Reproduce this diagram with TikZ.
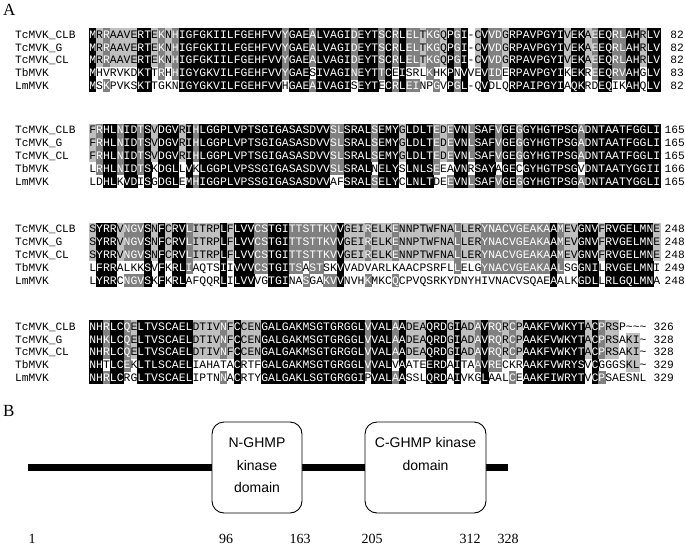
\documentclass[tikz,border=0pt]{standalone}
\usepackage{fontspec}
\setmainfont{Liberation Serif}
\setmonofont{Liberation Mono}
\newfontfamily\boxfont{Liberation Sans}
\definecolor{alndark}{gray}{0.5}
\definecolor{alnlight}{gray}{0.75}
\tikzset{
  cellbg0/.style={},
  cellbg3/.style={fill=alnlight},
  cellbg4/.style={fill=alndark},
  cellbg5/.style={fill=black},
  celltx0/.style={text=black},
  celltx3/.style={text=black},
  celltx4/.style={text=white},
  celltx5/.style={text=white},
  restxt/.style={font=\fontsize{11.4}{12}\selectfont\ttfamily, inner sep=0pt, anchor=base},
  seqname/.style={font=\fontsize{11.2}{12}\selectfont\ttfamily, inner sep=0pt, anchor=base west},
  seqnum/.style={font=\fontsize{11.2}{12}\selectfont\ttfamily, inner sep=0pt, anchor=base east},
  panellabel/.style={font=\fontsize{17}{18}\selectfont, inner sep=0pt, anchor=base west},
  protein/.style={line width=7pt},
  domainbox/.style={draw, fill=white, rounded corners=12pt, line width=0.9pt, inner sep=0pt},
  boxtxt/.style={font=\boxfont\fontsize{14}{16}\selectfont, inner sep=0pt, anchor=base},
  posnum/.style={font=\fontsize{14}{16}\selectfont, inner sep=0pt, anchor=base},
}
\newcommand\alnX{89.3}
\newcommand\alnW{6.88}
\newcommand\alnH{12.8}
\def\alnY{0}
\newcommand\alncell[4]{%
  \path[cellbg#3] ({\alnX+(#1-1)*\alnW},{\alnY+(#2-1)*\alnH}) rectangle ++({\alnW+0.3},{\alnH+0.3});
  \node[restxt,celltx#3] at ({\alnX+(#1-0.5)*\alnW},{\alnY+(#2-0.5)*\alnH+3.9}) {#4};
}
\newcommand\alnrow[5]{% #1 top, #2 row, #3 name, #4 number, #5 x of number right edge
  \node[seqname] at (15,{#1+(#2-0.5)*\alnH+3.9}) {#3};
  \node[seqnum] at (#5,{#1+(#2-0.5)*\alnH+3.9}) {#4};
}
\ExplSyntaxOn
\int_new:N \l__aln_n_int
\int_new:N \l__aln_count_int
\tl_new:N \l__aln_ch_tl
\tl_new:N \l__aln_i_tl
\tl_new:N \l__aln_r_tl
\tl_new:N \l__aln_q_tl
\tl_const:Nn \c__aln_zero_tl {0}
\int_step_inline:nn {5}
  {
    \str_new:c {l__aln_s#1_str}
    \tl_new:c {l__aln_c#1_tl}
    \tl_new:c {l__aln_g#1_tl}
  }
\cs_new_protected:Npn \__aln_group:nN #1#2
  {
    \str_case:nnF {#1}
      {
        {D}{\tl_set:Nn #2 {1}}
        {N}{\tl_set:Nn #2 {1}}
        {E}{\tl_set:Nn #2 {2}}
        {Q}{\tl_set:Nn #2 {2}}
        {S}{\tl_set:Nn #2 {3}}
        {T}{\tl_set:Nn #2 {3}}
        {K}{\tl_set:Nn #2 {4}}
        {R}{\tl_set:Nn #2 {4}}
        {F}{\tl_set:Nn #2 {5}}
        {Y}{\tl_set:Nn #2 {5}}
        {W}{\tl_set:Nn #2 {5}}
        {L}{\tl_set:Nn #2 {6}}
        {I}{\tl_set:Nn #2 {6}}
        {V}{\tl_set:Nn #2 {6}}
        {M}{\tl_set:Nn #2 {6}}
      }
      {
        \str_if_in:nnTF { ACGHP } {#1}
          { \tl_set:Nx #2 { \tl_to_str:n {#1} } }
          { \tl_set:Nn #2 {0} }
      }
  }
\cs_generate_variant:Nn \__aln_group:nN { vc }
\cs_new_protected:Npn \AlnBlock #1#2#3#4#5#6
  {
    \tl_set:Nn \alnY {#1}
    \str_set:cn {l__aln_s1_str} {#2}
    \str_set:cn {l__aln_s2_str} {#3}
    \str_set:cn {l__aln_s3_str} {#4}
    \str_set:cn {l__aln_s4_str} {#5}
    \str_set:cn {l__aln_s5_str} {#6}
    \int_set:Nn \l__aln_n_int { \exp_args:Nc \str_count:N {l__aln_s1_str} }
    \int_step_variable:nNn { \l__aln_n_int } \l__aln_i_tl
      {
        \int_step_variable:nNn {5} \l__aln_r_tl
          {
            \tl_set:cx { l__aln_c \l__aln_r_tl _tl }
              { \exp_args:Nc \str_item:Nn { l__aln_s \l__aln_r_tl _str } { \l__aln_i_tl } }
            \__aln_group:vc { l__aln_c \l__aln_r_tl _tl } { l__aln_g \l__aln_r_tl _tl }
          }
        \int_step_variable:nNn {5} \l__aln_r_tl
          {
            \int_zero:N \l__aln_count_int
            \tl_if_eq:cNF { l__aln_g \l__aln_r_tl _tl } \c__aln_zero_tl
              {
                \int_step_variable:nNn {5} \l__aln_q_tl
                  {
                    \tl_if_eq:ccT { l__aln_g \l__aln_r_tl _tl } { l__aln_g \l__aln_q_tl _tl }
                      { \int_incr:N \l__aln_count_int }
                  }
              }
            \int_compare:nNnT { \l__aln_count_int } < {3} { \int_zero:N \l__aln_count_int }
            \tl_set_eq:Nc \l__aln_ch_tl { l__aln_c \l__aln_r_tl _tl }
            \use:x
              {
                \exp_not:N \alncell
                  { \l__aln_i_tl } { \l__aln_r_tl } { \int_use:N \l__aln_count_int } { \exp_not:V \l__aln_ch_tl }
              }
          }
      }
  }
\ExplSyntaxOff
\begin{document}
\begin{tikzpicture}[x=1pt,y=-1pt]
\useasboundingbox (0,0) rectangle (685,544);
\node[panellabel] (labA) at (3,15) {A};
% block 1
\AlnBlock{28}
{MRRAAVERTEKNHIGFGKIILFGEHFVVYGAEALVAGIDEYTSCRLELTKGQPGI-CVVDGRPAVPGYIVEKAEEQRLAHRLV}
{MRRAAVERTEKNHIGFGKIILFGEHFVVYGAEALVAGIDEYTSCRLELTKGQPGI-CVVDGRPAVPGYIVEKAEEQRLAHRLV}
{MRRAAVERTEKNHIGFGKIILFGEHFVVYGAEALVAGIDEYTSCRLELTKGQPGI-CVVDGRPAVPGYIVEKAEEQRLAHRLV}
{MHVRVKDKTTRHHIGYGKVILFGEHFVVYGAESIVAGINEYTTCEISRLKHKPNVVEVIDERPAVPGYIKEKREEQRVAHGLV}
{MSKPVKSKTTGKNIGYGKVILFGEHFVVHGAEAIVAGISEYTECRLEINPGVPGL-QVDLQRPAIPGYIAQKRDEQIKAHQLV}
\alnrow{28}{1}{TcMVK\_CLB}{82}{684}
\alnrow{28}{2}{TcMVK\_G}{82}{684}
\alnrow{28}{3}{TcMVK\_CL}{82}{684}
\alnrow{28}{4}{TbMVK}{83}{684}
\alnrow{28}{5}{LmMVK}{82}{684}
% block 2
\AlnBlock{123.5}
{FRHLNIDTSVDGVRIHLGGPLVPTSGIGASASDVVSLSRALSEMYGLDLTEDEVNLSAFVGEGGYHGTPSGADNTAATFGGLI}
{FRHLNIDTSVDGVRIHLGGPLVPTSGIGASASDVVSLSRALSEMYGLDLTEDEVNLSAFVGEGGYHGTPSGADNTAATFGGLI}
{FRHLNIDTSVDGVRIHLGGPLVPTSGIGASASDVVSLSRALSEMYGLDLTEDEVNLSAFVGEGGYHGTPSGADNTAATFGGLI}
{LRHLNIDTSKDGLLVKLGGPLVPSSGIGASASDVVSLSRALNELYSLNLSEEAVNRSAYAGECGYHGTPSGVDNTAATYGGII}
{LDHLKVDISGDGLEMHIGGPLVPSSGIGASASDVVAFSRALSELYCLNLTDEEVNLSAFVGEGGYHGTPSGADNTAATYGGLI}
\alnrow{123.5}{1}{TcMVK\_CLB}{165}{685}
\alnrow{123.5}{2}{TcMVK\_G}{165}{685}
\alnrow{123.5}{3}{TcMVK\_CL}{165}{685}
\alnrow{123.5}{4}{TbMVK}{166}{685}
\alnrow{123.5}{5}{LmMVK}{165}{685}
% block 3
\AlnBlock{222.5}
{SYRRVNGVSNFCRVLITRPLFLVVCSTGITTSTTKVVGEIRELKENNPTWFNALLERYNACVGEAKAAMEVGNVFRVGELMNE}
{SYRRVNGVSNFCRVLITRPLFLVVCSTGITTSTTKVVGEIRELKENNPTWFNALLERYNACVGEAKAAMEVGNVFRVGELMNE}
{SYRRVNGVSNFCRVLITRPLFLVVCSTGITTSTTKVVGEIRELKENNPTWFNALLERYNACVGEAKAAMEVGNVFRVGELMNE}
{LFRRALKKSVFKRLIAQTSIIVVVCSTGITSASTSKVVADVARLKAACPSRFLLELGYNACVGEAKAALSGGNILRVGELMNI}
{LYRRCNGVSKFKRLAFQQRLILVVVGTGINASGAKVVNVHKMKCQCPVQSRKYDNYHIVNACVSQAEAALKGDLLRLGQLMNA}
\alnrow{222.5}{1}{TcMVK\_CLB}{248}{685}
\alnrow{222.5}{2}{TcMVK\_G}{248}{685}
\alnrow{222.5}{3}{TcMVK\_CL}{248}{685}
\alnrow{222.5}{4}{TbMVK}{249}{685}
\alnrow{222.5}{5}{LmMVK}{248}{685}
% block 4
\AlnBlock{320}
{NHRLCQELTVSCAELDTIVNFCCENGALGAKMSGTGRGGLVVALAADEAQRDGIADAVRQRCPAAKFVWKYTACPRSP~~~}
{NHKLCQELTVSCAELDTIVNFCCENGALGAKMSGTGRGGLVVALAADEAQRDGIADAVRQRCPAAKFVWKYTACPRSAKI~}
{NHRLCQELTVSCAELDTIVNFCCENGALGAKMSGTGRGGLVVALAADEAQRDGIADAVRQRCPAAKFVWKYTACPRSAKI~}
{NHTLCEKLTLSCAELIAHATACRTFGALGAKMSGTGRGGLVVALVAATEERDAITAAVRECKRAAKFVWRYSVCGGGSKL~}
{NHRLCRGLTVSCAELIPTNNACRTYGALGAKLSGTGRGGIPVALAASSLQRDAIVKGLAALCEAAKFIWRYTVCPSAESNL}
\alnrow{320}{1}{TcMVK\_CLB}{326}{674}
\alnrow{320}{2}{TcMVK\_G}{328}{674}
\alnrow{320}{3}{TcMVK\_CL}{328}{674}
\alnrow{320}{4}{TbMVK}{329}{674}
\alnrow{320}{5}{LmMVK}{329}{674}
% panel B
\node[panellabel] (labB) at (3,416) {B};
\coordinate (lineL) at (28,467);
\coordinate (lineR) at (508,467);
\draw[protein] (lineL) -- (lineR);
\node[domainbox, minimum width=90pt, minimum height=91pt] (ndom) at (257,467.5) {};
\node[domainbox, minimum width=121pt, minimum height=91pt] (cdom) at (425.5,467.5) {};
\node[boxtxt] (nt1) at (ndom.center |- 0,447) {N-GHMP};
\node[boxtxt] (nt2) at (ndom.center |- 0,470) {kinase};
\node[boxtxt] (nt3) at (ndom.center |- 0,492) {domain};
\node[boxtxt] (ct1) at (cdom.center |- 0,447) {C-GHMP kinase};
\node[boxtxt] (ct2) at (cdom.center |- 0,470) {domain};
\node[posnum] (p1) at (32,543) {1};
\node[posnum] (p96) at (226,543) {96};
\node[posnum] (p163) at (300,543) {163};
\node[posnum] (p205) at (372,543) {205};
\node[posnum] (p312) at (470,543) {312};
\node[posnum] (p328) at (508,543) {328};
\end{tikzpicture}
\end{document}
